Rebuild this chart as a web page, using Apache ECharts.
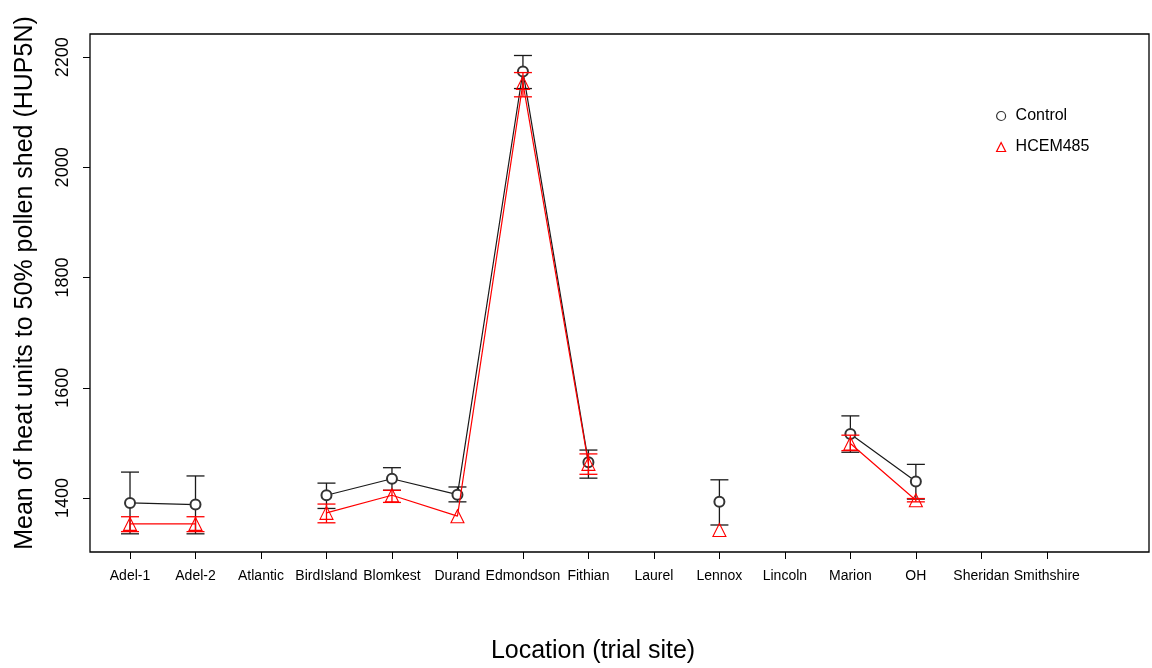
<!DOCTYPE html>
<html>
<head>
<meta charset="utf-8">
<script src="https://cdn.jsdelivr.net/npm/echarts@6/dist/echarts.min.js"></script>
<style>
html,body{margin:0;padding:0;background:#fff;}
#chart{width:1152px;height:668px;}
</style>
</head>
<body>
<div id="chart"></div>
<script>
const categories = ['Adel-1','Adel-2','Atlantic','BirdIsland','Blomkest','Durand','Edmondson','Fithian','Laurel','Lennox','Lincoln','Marion','OH','Sheridan','Smithshire'];
const controlMean = [1391, 1388, null, 1405, 1435, 1406, 2174, 1465, null, 1393, null, 1516, 1430, null, null];
const controlLow  = [1335, 1335, null, 1381, 1414, 1393, 2143, 1436, null, 1351, null, 1483, 1398, null, null];
const controlHigh = [1447, 1440, null, 1427, 1455, 1420, 2203, 1487, null, 1433, null, 1549, 1461, null, null];
const hcemMean = [1353, 1353, null, 1373, 1405, 1367, 2153, 1462, null, 1342, null, 1499, 1396, null, null];
const hcemLow  = [1339, 1339, null, 1355, 1392, null, 2128, 1443, null, null, null, 1486, 1393, null, null];
const hcemHigh = [1366, 1366, null, 1389, 1414, null, 2172, 1480, null, null, null, 1514, 1399, null, null];
const yTicks = [1400, 1600, 1800, 2000, 2200];
const xTicks = categories.map((c, i) => i + 1);

const FONT = 'Liberation Sans, Arial, Helvetica, sans-serif';
const BLACK = '#1a1a1a';
const RED = '#ff0000';

function lineData(means) {
  return means.map((v, i) => [i + 1, v == null ? '-' : v]);
}
function errData(lows, highs) {
  const out = [];
  lows.forEach((lo, i) => {
    if (lo != null && highs[i] != null) out.push([i + 1, lo, highs[i]]);
  });
  return out;
}
function errRender(color) {
  return function (params, api) {
    const x = api.value(0);
    const pLo = api.coord([x, api.value(1)]);
    const pHi = api.coord([x, api.value(2)]);
    const hw = 9;
    const st = { stroke: color, lineWidth: 1.3 };
    return {
      type: 'group',
      children: [
        { type: 'line', shape: { x1: pLo[0], y1: pLo[1], x2: pHi[0], y2: pHi[1] }, style: st },
        { type: 'line', shape: { x1: pLo[0] - hw, y1: pLo[1], x2: pLo[0] + hw, y2: pLo[1] }, style: st },
        { type: 'line', shape: { x1: pHi[0] - hw, y1: pHi[1], x2: pHi[0] + hw, y2: pHi[1] }, style: st }
      ]
    };
  };
}

const chart = echarts.init(document.getElementById('chart'), null, { renderer: 'canvas' });
chart.setOption({
  animation: false,
  backgroundColor: '#fff',
  textStyle: { fontFamily: FONT },
  grid: { left: 90, right: 3, top: 34, bottom: 116, show: true, borderColor: '#000', borderWidth: 1.3, backgroundColor: 'transparent' },
  xAxis: {
    type: 'value', min: 0.389, max: 16.56,
    axisLine: { show: false },
    splitLine: { show: false },
    axisTick: { show: true, inside: false, length: 7, customValues: xTicks, lineStyle: { color: '#000', width: 1 } },
    axisLabel: {
      show: true, customValues: xTicks, margin: 17,
      fontSize: 14, color: '#000', fontFamily: FONT,
      formatter: v => categories[Math.round(v) - 1] || ''
    }
  },
  yAxis: {
    type: 'value', min: 1302, max: 2242,
    axisLine: { show: false },
    splitLine: { show: false },
    axisTick: { show: true, inside: false, length: 7, customValues: yTicks, lineStyle: { color: '#000', width: 1 } },
    axisLabel: { show: true, customValues: yTicks, rotate: 90, margin: 18, fontSize: 18, color: '#000', fontFamily: FONT,
      formatter: v => String(Math.round(v)) }
  },
  legend: {
    orient: 'vertical', left: 991, top: 103, itemGap: 15,
    itemWidth: 9, itemHeight: 9,
    textStyle: { fontSize: 16, color: '#000', fontFamily: FONT, padding: [0, 0, 0, 5] },
    data: [
      { name: 'Control', icon: 'circle', itemStyle: { color: 'transparent', borderColor: '#333', borderWidth: 1.2 } },
      { name: 'HCEM485', icon: 'triangle', itemStyle: { color: 'transparent', borderColor: RED, borderWidth: 1.2 } }
    ]
  },
  graphic: [
    { type: 'text', x: 25, y: 283, rotation: Math.PI / 2,
      style: { text: 'Mean of heat units to 50% pollen shed (HUP5N)', font: '25px ' + FONT, fill: '#000', textAlign: 'center', textVerticalAlign: 'middle' } },
    { type: 'text', x: 593, y: 651,
      style: { text: 'Location (trial site)', font: '25px ' + FONT, fill: '#000', textAlign: 'center', textVerticalAlign: 'middle' } }
  ],
  series: [
    {
      name: 'Control', type: 'line', data: lineData(controlMean), connectNulls: false,
      symbol: 'emptyCircle', symbolSize: 10, showAllSymbol: true,
      lineStyle: { color: BLACK, width: 1.2 },
      itemStyle: { color: '#333', borderWidth: 1 }, z: 3
    },
    {
      name: 'HCEM485', type: 'line', data: lineData(hcemMean), connectNulls: false,
      symbol: 'triangle', symbolSize: 13, showAllSymbol: true,
      lineStyle: { color: RED, width: 1.2 },
      itemStyle: { color: 'transparent', borderColor: RED, borderWidth: 1.1 }, z: 4
    },
    { name: 'ControlErr', type: 'custom', renderItem: errRender(BLACK), data: errData(controlLow, controlHigh), z: 2, silent: true },
    { name: 'HCEMErr', type: 'custom', renderItem: errRender(RED), data: errData(hcemLow, hcemHigh), z: 5, silent: true }
  ]
});
</script>
</body>
</html>
